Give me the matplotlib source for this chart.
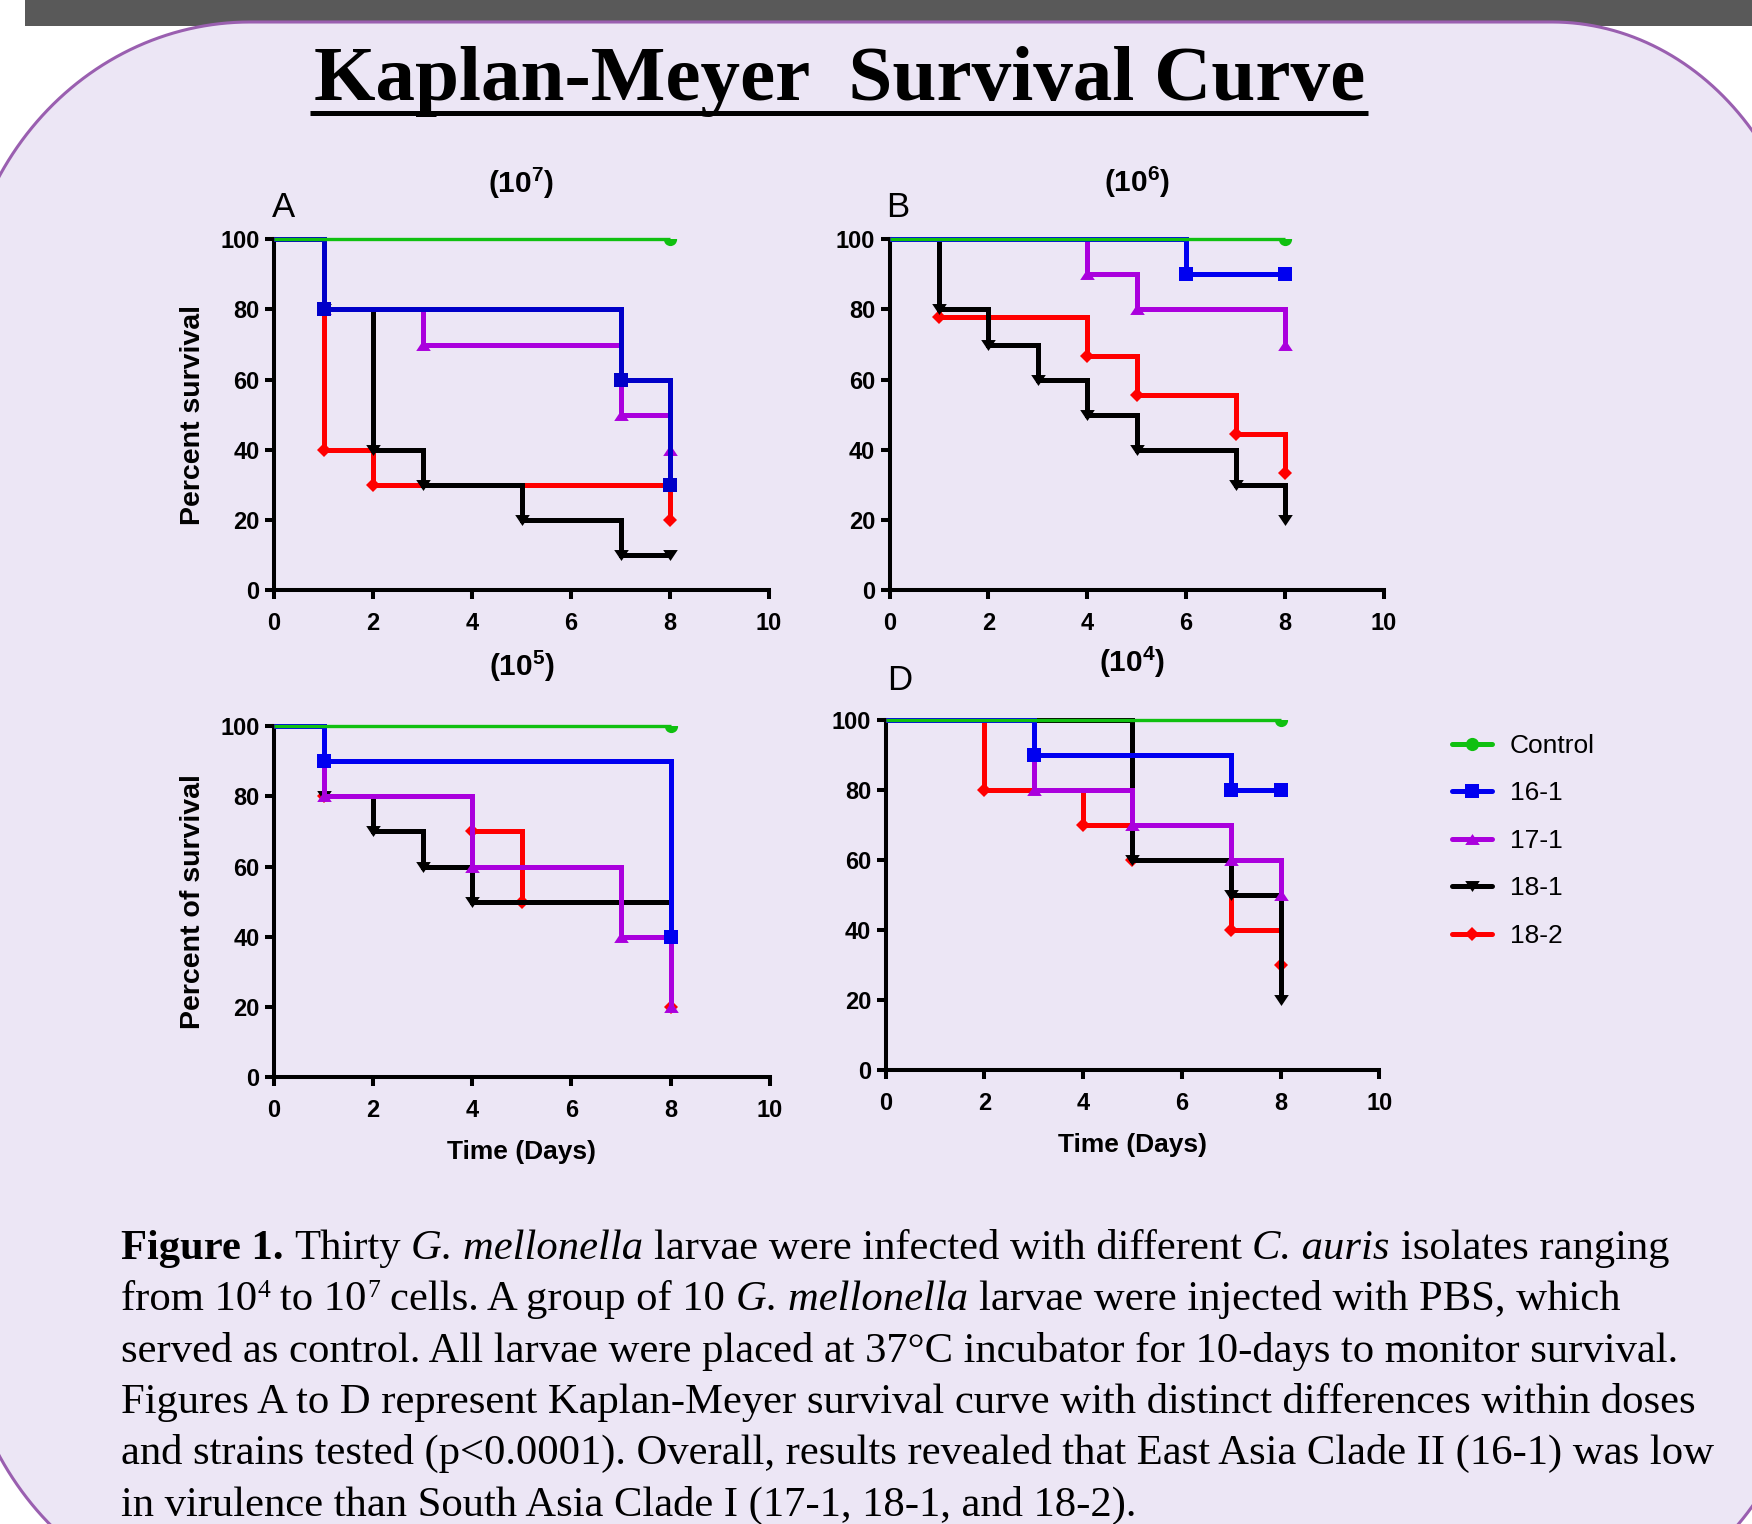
#!/usr/bin/env python3
import numpy as np
import matplotlib
matplotlib.use("Agg")
import matplotlib.pyplot as plt
from matplotlib.lines import Line2D
from matplotlib.patches import Polygon, Rectangle

FIG_W, FIG_H = 1752, 1524

STRAINS = ["Control", "16-1", "17-1", "18-1", "18-2"]
DRAW_ORDER = ["18-2", "18-1", "17-1", "16-1", "Control"]
DOSE_EXPONENTS = ["7", "6", "5", "4"]
PANEL_LETTERS = ["A", "B", "", "D"]
Y_LABELS = ["Percent survival", "", "Percent of survival", ""]
X_LABELS = ["", "", "Time (Days)", "Time (Days)"]
X_TICKS = [0, 2, 4, 6, 8, 10]
Y_TICKS = [0, 20, 40, 60, 80, 100]

# A: 10^7 cells
DAYS_A = {"Control": [0, 8], "16-1": [0, 1, 7, 8], "17-1": [0, 1, 3, 7, 8],
          "18-1": [0, 1, 2, 3, 5, 7, 8], "18-2": [0, 1, 2, 8]}
SURV_A = {"Control": [100, 100], "16-1": [100, 80, 60, 30], "17-1": [100, 80, 70, 50, 40],
          "18-1": [100, 80, 40, 30, 20, 10, 10], "18-2": [100, 40, 30, 20]}

# B: 10^6 cells
DAYS_B = {"Control": [0, 8], "16-1": [0, 6, 8], "17-1": [0, 4, 5, 8],
          "18-1": [0, 1, 2, 3, 4, 5, 7, 8], "18-2": [0, 1, 4, 5, 7, 8]}
SURV_B = {"Control": [100, 100], "16-1": [100, 90, 90], "17-1": [100, 90, 80, 70],
          "18-1": [100, 80, 70, 60, 50, 40, 30, 20], "18-2": [100, 77.8, 66.7, 55.6, 44.4, 33.3]}

# C: 10^5 cells
DAYS_C = {"Control": [0, 8], "16-1": [0, 1, 8], "17-1": [0, 1, 4, 7, 8],
          "18-1": [0, 1, 2, 3, 4, 8], "18-2": [0, 1, 4, 5, 8]}
SURV_C = {"Control": [100, 100], "16-1": [100, 90, 40], "17-1": [100, 80, 60, 40, 20],
          "18-1": [100, 80, 70, 60, 50, 50], "18-2": [100, 80, 70, 50, 20]}

# D: 10^4 cells
DAYS_D = {"Control": [0, 8], "16-1": [0, 3, 7, 8], "17-1": [0, 3, 5, 7, 8],
          "18-1": [0, 5, 7, 8], "18-2": [0, 2, 4, 5, 7, 8]}
SURV_D = {"Control": [100, 100], "16-1": [100, 90, 80, 80], "17-1": [100, 80, 70, 60, 50],
          "18-1": [100, 60, 50, 20], "18-2": [100, 80, 70, 60, 40, 30]}

PANEL_DAYS = [DAYS_A, DAYS_B, DAYS_C, DAYS_D]
PANEL_SURV = [SURV_A, SURV_B, SURV_C, SURV_D]
# curves whose last point carries no symbol
UNMARKED_END = {2: ["18-1"]}

CAPTION_LINES = [
    [("Figure 1.", "b"), (" Thirty ", "r"), ("G. mellonella", "i"),
     (" larvae were infected with different ", "r"), ("C. auris", "i"), (" isolates ranging", "r")],
    [("from 10", "r"), ("4", "sup"), (" to 10", "r"), ("7", "sup"), (" cells. A group of 10 ", "r"),
     ("G. mellonella", "i"), (" larvae were injected with PBS, which", "r")],
    [("served as control. All larvae were placed at 37°C incubator for 10-days to monitor survival.", "r")],
    [("Figures A to D represent Kaplan-Meyer survival curve with distinct differences within doses", "r")],
    [("and strains tested (p<0.0001). Overall, results revealed that East Asia Clade II (16-1) was low", "r")],
    [("in virulence than South Asia Clade I (17-1, 18-1, and 18-2).", "r")],
]

TRI_UP = [(0, 0.75), (-1, -0.75), (1, -0.75), (0, 0.75)]
TRI_DOWN = [(0, -0.75), (-1, 0.75), (1, 0.75), (0, -0.75)]

COLORS = {"Control": "#10c010", "16-1": "#0000f0", "17-1": "#aa00dd", "18-1": "#000000", "18-2": "#ff0000"}
MARKERS = {"Control": "o", "16-1": "s", "17-1": TRI_UP, "18-1": TRI_DOWN, "18-2": "D"}
MARKER_SIZES = {"Control": 9.5, "16-1": 10.5, "17-1": 10.5, "18-1": 10.5, "18-2": 6.8}
LINE_WIDTHS = {"Control": 2.4, "16-1": 3.6, "17-1": 3.6, "18-1": 3.6, "18-2": 3.6}

SANS = ["Liberation Sans", "DejaVu Sans"]
SERIF = ["Liberation Serif", "DejaVu Serif"]

BG_LAVENDER = "#ece6f5"
BORDER_PURPLE = "#9a5fb0"
CAPTION_SIZE = 30.7


def px_rect(left, top, right, bottom):
    return [left / FIG_W, 1 - bottom / FIG_H, (right - left) / FIG_W, (bottom - top) / FIG_H]


# axes boxes in pixels (left, top, right, bottom)
AXES_BOXES = [
    px_rect(274, 239.3, 769, 590),
    px_rect(889.6, 239.3, 1383.9, 590),
    px_rect(274, 726, 769.8, 1077.3),
    px_rect(885.7, 720.2, 1379.2, 1070.4),
]
TITLE_OFFSETS = [56, 57, 60, 58]
LETTER_OFFSETS = [(-2, 22), (-3, 22), (0, 0), (1, 30)]


def corner_arc(cx, cy, rx, ry, a0, a1, n=60):
    t = np.linspace(a0, a1, n)
    return np.column_stack([cx + rx * np.cos(t), cy + ry * np.sin(t)])


def draw_background(bg):
    bg.add_patch(Rectangle((25, 0), FIG_W - 25, 26, facecolor="#595959", edgecolor="none", zorder=0))
    pts = np.vstack([
        corner_arc(250, 332, 290, 310, np.pi, 1.5 * np.pi),
        corner_arc(1552, 322, 260, 300, 1.5 * np.pi, 2 * np.pi),
        corner_arc(1552, 1315, 260, 300, 0, 0.5 * np.pi),
        corner_arc(250, 1300, 290, 310, 0.5 * np.pi, np.pi),
    ])
    bg.add_patch(Polygon(pts, closed=True, facecolor=BG_LAVENDER, edgecolor=BORDER_PURPLE,
                         linewidth=2.2, zorder=1))


def text_width(ax, renderer, s, **kw):
    t = ax.text(0, 0, s, **kw)
    w = t.get_window_extent(renderer).width
    t.remove()
    return w


def draw_rich_line(ax, renderer, x, y, pieces, size=CAPTION_SIZE):
    styles = {
        "r": dict(fontsize=size),
        "b": dict(fontsize=size, fontweight="bold"),
        "i": dict(fontsize=size, fontstyle="italic"),
        "sup": dict(fontsize=size * 0.6),
    }
    for s, style in pieces:
        kw = dict(styles[style], family=SERIF)
        lead = len(s) - len(s.lstrip(" "))
        trail = len(s) - len(s.rstrip(" "))
        core = s.strip(" ")
        space = text_width(ax, renderer, "n n", **kw) - text_width(ax, renderer, "nn", **kw)
        x += lead * space
        dy = -13 if style == "sup" else 0
        ax.text(x, y + dy, core, ha="left", va="baseline", zorder=3, **kw)
        x += text_width(ax, renderer, core, **kw) + trail * space


def plot_panel(ax, idx):
    days = PANEL_DAYS[idx]
    surv = PANEL_SURV[idx]
    z = 2
    for strain in DRAW_ORDER:
        color = "#0000c8" if (idx == 0 and strain == "16-1") else COLORS[strain]
        ax.step(days[strain], surv[strain], where="post", color=color, lw=LINE_WIDTHS[strain],
                solid_joinstyle="miter", solid_capstyle="butt", clip_on=False, zorder=z)
        mx, my = days[strain][1:], surv[strain][1:]
        if strain in UNMARKED_END.get(idx, []):
            mx, my = mx[:-1], my[:-1]
        ax.plot(mx, my, linestyle="none", marker=MARKERS[strain],
                ms=MARKER_SIZES[strain], color=color, markeredgewidth=0, clip_on=True, zorder=z + 0.5)
        z += 1

    ax.set_xlim(0, 10)
    ax.set_ylim(0, 100)
    ax.set_xticks(X_TICKS)
    ax.set_yticks(Y_TICKS)
    for side in ["top", "right"]:
        ax.spines[side].set_visible(False)
    for side in ["left", "bottom"]:
        ax.spines[side].set_linewidth(2.9)
    ax.tick_params(axis="both", direction="out", length=6.5, width=2.9, labelsize=17)
    ax.tick_params(axis="x", pad=9)
    ax.tick_params(axis="y", pad=4)
    for lab in ax.get_xticklabels() + ax.get_yticklabels():
        lab.set_fontweight("bold")

    ax.annotate(f"(10$^{{{DOSE_EXPONENTS[idx]}}}$)", xy=(0.5, 1), xycoords="axes fraction",
                xytext=(0, TITLE_OFFSETS[idx]), textcoords="offset pixels",
                ha="center", va="center", fontsize=21.5, fontweight="bold")
    if PANEL_LETTERS[idx]:
        ax.annotate(PANEL_LETTERS[idx], xy=(0, 1), xycoords="axes fraction",
                    xytext=LETTER_OFFSETS[idx], textcoords="offset pixels",
                    ha="left", va="baseline", fontsize=25)
    if Y_LABELS[idx]:
        ax.annotate(Y_LABELS[idx], xy=(0, 0.5), xycoords="axes fraction", xytext=(-81, 0),
                    textcoords="offset pixels", rotation=90, ha="center", va="center",
                    fontsize=20.5, fontweight="bold")
    if X_LABELS[idx]:
        ax.annotate(X_LABELS[idx], xy=(0.5, 0), xycoords="axes fraction", xytext=(0, -75),
                    textcoords="offset pixels", ha="center", va="center",
                    fontsize=19, fontweight="bold")


def main() -> None:
    plt.rcParams["font.family"] = SANS
    plt.rcParams["mathtext.fontset"] = "custom"
    plt.rcParams["mathtext.rm"] = "Liberation Sans:bold"
    plt.rcParams["mathtext.bf"] = "Liberation Sans:bold"
    plt.rcParams["mathtext.default"] = "rm"

    fig = plt.figure(figsize=(FIG_W / 100, FIG_H / 100), dpi=100, facecolor="white")
    bg = fig.add_axes([0, 0, 1, 1], zorder=0)
    bg.set_xlim(0, FIG_W)
    bg.set_ylim(FIG_H, 0)
    bg.axis("off")
    draw_background(bg)

    renderer = fig.canvas.get_renderer()
    title = bg.text(840, 100, "Kaplan-Meyer  Survival Curve", ha="center", va="baseline",
                    fontsize=57, fontweight="bold", family=SERIF, zorder=3)
    tb = title.get_window_extent(renderer).transformed(bg.transData.inverted())
    bg.plot([tb.x0 - 4, tb.x1 + 2], [113, 113], color="black", lw=3.6,
            solid_capstyle="butt", zorder=3)

    for i, pieces in enumerate(CAPTION_LINES):
        draw_rich_line(bg, renderer, 121, 1259 + i * 51.3, pieces)

    for idx, box in enumerate(AXES_BOXES):
        ax = fig.add_axes(box, zorder=1)
        ax.set_facecolor("none")
        plot_panel(ax, idx)

    handles = [
        Line2D([], [], color=COLORS[s], lw=3.6, marker=MARKERS[s], ms=MARKER_SIZES[s],
               markeredgewidth=0, solid_capstyle="round")
        for s in STRAINS
    ]
    fig.legend(handles, STRAINS, loc="upper left", bbox_to_anchor=(1452 / FIG_W, 1 - 734 / FIG_H),
               frameon=False, fontsize=19, handlelength=1.5, handletextpad=0.7,
               labelspacing=0.89, borderpad=0, borderaxespad=0, numpoints=1)

    fig.savefig("out.png", dpi=100, facecolor="white")
    plt.close(fig)


if __name__ == "__main__":
    main()
